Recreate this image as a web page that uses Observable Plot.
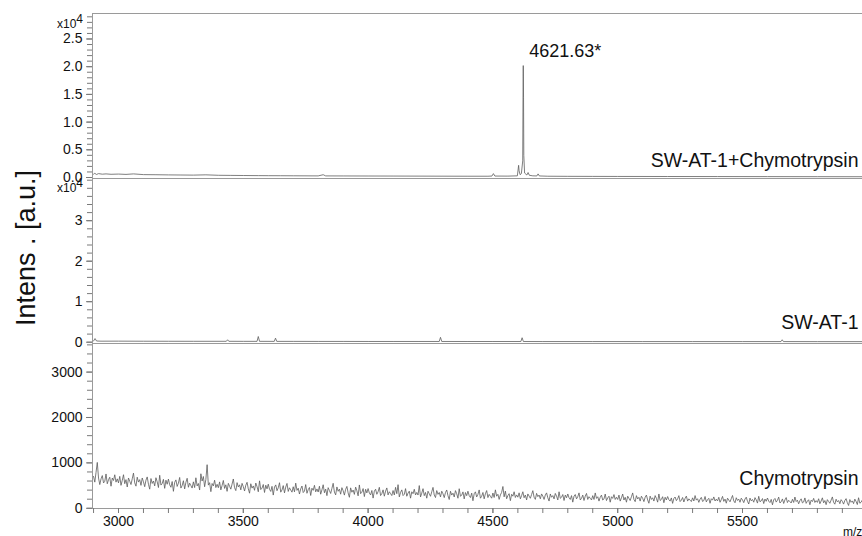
<!DOCTYPE html>
<html><head><meta charset="utf-8">
<script src="https://cdn.jsdelivr.net/npm/d3@7"></script>
<script src="https://cdn.jsdelivr.net/npm/@observablehq/plot@0.6"></script>
<style>
html,body{margin:0;padding:0;background:#fff;overflow:hidden;}
#wrap{position:relative;width:862px;height:536px;overflow:hidden;font-family:"Liberation Sans",Arial,sans-serif;color:#111;}
.panel{position:absolute;left:0;max-width:none !important;}
.exp{position:absolute;font-size:12px;line-height:12px;white-space:nowrap;}
.exp sup{font-size:12px;vertical-align:5px;line-height:0;}
#ytitle{position:absolute;left:26px;top:248px;transform:translate(-50%,-50%) rotate(-90deg);font-size:27px;line-height:27px;white-space:nowrap;}
#mz{position:absolute;left:843px;top:526px;font-size:12px;line-height:12px;white-space:nowrap;}
</style></head><body><div id="wrap"></div>
<script>
// ---------- data ----------
const seriesNames = ["SW-AT-1+Chymotrypsin", "SW-AT-1", "Chymotrypsin"];
const yTitle = "Intens . [a.u.]";
const xUnit = "m/z";
const peakLabel = "4621.63*";
const peakMz = 4621.63;
const peakIntensity = 20200;

const xTickLabels = [3000, 3500, 4000, 4500, 5000, 5500];
const y1TickLabels = [0, 5000, 10000, 15000, 20000, 25000];
const y2TickLabels = [0, 10000, 20000, 30000];
const y3TickLabels = [0, 1000, 2000, 3000];

// Panel 1: SW-AT-1 + Chymotrypsin
const comboMz = [2900, 2905, 2912, 2920, 2935, 2950, 2970, 3000, 3030, 3060, 3100, 3150, 3200, 3250, 3300, 3350, 3400, 3450, 3500, 3560, 3600, 3650, 3700, 3800, 3820, 3830, 3900, 4000, 4100, 4200, 4300, 4400, 4480, 4496, 4502, 4508, 4560, 4598, 4603, 4605, 4609, 4614, 4619.5, 4620.6, 4621.63, 4622.7, 4623.8, 4627, 4636, 4641, 4646, 4660, 4676, 4681, 4686, 4720, 4800, 4900, 5000, 5200, 5400, 5600, 5800, 6000];
const comboIntensity = [600, 750, 550, 700, 600, 650, 580, 620, 560, 650, 520, 500, 470, 450, 430, 480, 400, 380, 360, 340, 330, 320, 310, 290, 500, 290, 280, 270, 260, 250, 240, 230, 230, 260, 700, 260, 250, 300, 2200, 1200, 500, 700, 3000, 14000, 20200, 14500, 4000, 800, 450, 900, 400, 300, 280, 650, 280, 230, 210, 200, 190, 180, 170, 160, 150, 140];

// Panel 2: SW-AT-1
const swMz = [2900, 2906, 2912, 2930, 3000, 3100, 3200, 3300, 3432, 3437, 3442, 3500, 3555, 3560, 3565, 3624, 3629, 3634, 3700, 3800, 3900, 4000, 4100, 4200, 4285, 4290, 4295, 4400, 4500, 4612, 4617, 4622, 4700, 4900, 5100, 5300, 5500, 5654, 5659, 5664, 5800, 6000];
const swIntensity = [300, 900, 300, 250, 260, 240, 230, 220, 220, 600, 220, 210, 210, 1400, 210, 200, 1000, 200, 200, 190, 190, 180, 180, 180, 180, 1200, 180, 170, 170, 170, 1100, 170, 160, 160, 150, 150, 150, 150, 600, 150, 140, 140];

// Panel 3: Chymotrypsin, sampled every 5 m/z from 2900 to 5980
const chymoStart = 2900;
const chymoStep = 5;
const chymoIntensity = [
  702, 576, 792, 1010, 666, 522, 648, 720, 558, 594, 756, 540, 630, 684, 486, 666, 612, 738, 576, 648,
  559, 703, 505, 613, 739, 541, 631, 469, 667, 595, 523, 649, 775, 559, 487, 685, 577, 631, 505, 667,
  583, 475, 619, 691, 529, 421, 655, 547, 601, 493, 673, 583, 457, 727, 511, 547, 637, 439, 619, 529,
  643, 517, 463, 589, 373, 571, 625, 481, 553, 679, 445, 499, 607, 427, 571, 661, 463, 553, 499, 445,
  582, 456, 672, 492, 546, 402, 760, 600, 700, 474, 636, 960, 510, 564, 366, 546, 492, 618, 456, 528,
  453, 581, 405, 501, 613, 437, 517, 373, 549, 485, 421, 533, 645, 453, 389, 565, 469, 517, 405, 549,
  476, 380, 508, 572, 428, 332, 540, 444, 492, 396, 556, 476, 364, 604, 412, 444, 524, 348, 508, 428,
  531, 419, 371, 483, 291, 467, 515, 387, 451, 563, 355, 403, 499, 339, 467, 547, 371, 451, 403, 355,
  474, 362, 554, 394, 442, 314, 426, 490, 346, 378, 522, 330, 410, 458, 282, 442, 394, 506, 362, 426,
  358, 486, 310, 406, 518, 342, 422, 278, 454, 390, 326, 438, 550, 358, 294, 470, 374, 422, 310, 454,
  386, 290, 418, 482, 338, 242, 450, 354, 402, 306, 466, 386, 274, 514, 322, 354, 434, 258, 418, 338,
  434, 336, 294, 392, 224, 378, 420, 308, 364, 462, 280, 322, 406, 266, 378, 448, 294, 364, 322, 280,
  391, 293, 461, 321, 520, 251, 349, 405, 279, 307, 433, 265, 335, 377, 223, 363, 321, 419, 293, 349,
  292, 500, 250, 334, 432, 278, 348, 222, 376, 320, 264, 362, 460, 292, 236, 390, 306, 348, 250, 376,
  319, 235, 347, 403, 277, 193, 375, 291, 333, 249, 389, 319, 221, 431, 263, 291, 361, 207, 347, 277,
  376, 278, 236, 334, 166, 320, 362, 250, 306, 404, 222, 264, 348, 208, 320, 390, 236, 306, 264, 222,
  336, 238, 406, 266, 308, 196, 294, 350, 480, 252, 378, 210, 280, 322, 168, 308, 266, 364, 238, 294,
  244, 340, 208, 280, 364, 232, 292, 184, 316, 268, 220, 304, 388, 244, 196, 328, 256, 292, 208, 316,
  267, 195, 291, 339, 231, 159, 315, 243, 279, 207, 327, 267, 183, 363, 219, 243, 303, 171, 291, 231,
  315, 231, 195, 279, 135, 267, 303, 207, 255, 339, 183, 219, 291, 171, 267, 327, 195, 255, 219, 183,
  278, 194, 338, 218, 254, 158, 242, 290, 182, 206, 314, 170, 230, 266, 134, 254, 218, 302, 194, 242,
  194, 290, 158, 230, 314, 182, 242, 134, 266, 218, 170, 254, 338, 194, 146, 278, 206, 242, 158, 266,
  219, 147, 243, 291, 183, 111, 267, 195, 231, 159, 279, 219, 135, 315, 171, 195, 255, 123, 243, 183,
  258, 188, 158, 228, 108, 218, 248, 168, 208, 278, 148, 178, 238, 138, 218, 268, 158, 208, 178, 148,
  230, 160, 280, 180, 210, 130, 200, 240, 150, 170, 260, 140, 190, 220, 110, 210, 180, 250, 160, 200,
  162, 242, 132, 192, 262, 152, 202, 112, 222, 182, 142, 212, 282, 162, 122, 232, 172, 202, 132, 222,
  184, 124, 204, 244, 154, 94, 224, 164, 194, 134, 234, 184, 114, 264, 144, 164, 214, 104, 204, 154,
  226, 156, 126, 196, 76, 186, 216, 136, 176, 246, 116, 146, 206, 106, 186, 236, 126, 176, 146, 116,
  198, 128, 248, 148, 178, 98, 168, 208, 118, 138, 228, 108, 158, 188, 78, 178, 148, 218, 128, 168,
  130, 210, 100, 160, 230, 120, 170, 80, 190, 150, 110, 180, 250, 130, 90, 200, 140, 170, 100, 190,
  152, 92, 172, 212, 122, 62, 192, 132, 162, 102, 202, 152, 82, 232, 112, 132, 182
];

// ---------- build ----------
const combo = comboMz.map((m, i) => ({mz: m, v: comboIntensity[i]}));
const sw = swMz.map((m, i) => ({mz: m, v: swIntensity[i]}));
const chymo = chymoIntensity.map((v, i) => ({mz: chymoStart + i * chymoStep, v}));

const W = 870;
const xDomain = [2895.8, 6012.8];
const FONT = "'Liberation Sans', Arial, sans-serif";
const TICK = "#7a7a7a";
const FRAME = "#9a9a9a";
const LINE = "#5e5e5e";
const minor = (a, b, s) => d3.range(a, b + s / 2, s);
const xMinor = minor(2900, 6000, 100);

function yMarks(minorTicks, majorTicks, fmt) {
  return [
    Plot.axisY(minorTicks, {tickSize: 5, tickFormat: () => "", label: null, stroke: TICK}),
    Plot.axisY(majorTicks, {tickSize: 6, tickPadding: 4, tickFormat: fmt, label: null, stroke: TICK, fontSize: 14, fill: "#111"})
  ];
}
const style = {fontFamily: FONT, fontSize: "14px", color: "#111", background: "transparent", overflow: "visible", maxWidth: "none"};

const p1 = Plot.plot({
  width: W, height: 179, marginLeft: 92, marginRight: 0, marginTop: 13, marginBottom: 1,
  style,
  x: {domain: xDomain, axis: null},
  y: {domain: [-180, 29600]},
  marks: [
    Plot.frame({stroke: FRAME}),
    ...yMarks(minor(0, 29000, 1000), y1TickLabels, d => (d / 1e4).toFixed(1)),
    Plot.line(combo, {x: "mz", y: "v", stroke: LINE, strokeWidth: 0.8, clip: true}),
    Plot.text([{mz: peakMz, v: peakIntensity, t: peakLabel}], {x: "mz", y: "v", text: "t", textAnchor: "start", dx: 6, dy: -14, fontSize: 18, fill: "#111"}),
    Plot.text([seriesNames[0]], {text: d => d, frameAnchor: "bottom-right", textAnchor: "end", lineAnchor: "middle", dx: -12, dy: -18, fontSize: 19.5, fill: "#111"})
  ]
});

const p2 = Plot.plot({
  width: W, height: 166, marginLeft: 92, marginRight: 0, marginTop: 0, marginBottom: 1,
  style,
  x: {domain: xDomain, axis: null},
  y: {domain: [-321, 40420]},
  marks: [
    Plot.frame({stroke: FRAME}),
    ...yMarks(minor(0, 40000, 2000), y2TickLabels, d => String(d / 1e4)),
    Plot.line(sw, {x: "mz", y: "v", stroke: LINE, strokeWidth: 0.8, clip: true}),
    Plot.text([seriesNames[1]], {text: d => d, frameAnchor: "bottom-right", textAnchor: "end", lineAnchor: "middle", dx: -12, dy: -21, fontSize: 19.5, fill: "#111"})
  ]
});

const p3 = Plot.plot({
  width: W, height: 193, marginLeft: 92, marginRight: 0, marginTop: 0, marginBottom: 28,
  style,
  x: {domain: xDomain},
  y: {domain: [-5, 3630]},
  marks: [
    Plot.frame({stroke: FRAME}),
    ...yMarks(minor(0, 3600, 200), y3TickLabels, d => String(d)),
    Plot.axisX(xMinor, {tickSize: 5, tickFormat: () => "", label: null, stroke: TICK}),
    Plot.axisX(xTickLabels, {tickSize: 5, tickPadding: 3, tickFormat: d => String(d), label: null, stroke: TICK, fontSize: 14, fill: "#111"}),
    Plot.line(chymo, {x: "mz", y: "v", stroke: "#5c5c5c", strokeWidth: 0.8, clip: true}),
    Plot.text([seriesNames[2]], {text: d => d, frameAnchor: "bottom-right", textAnchor: "end", lineAnchor: "middle", dx: -12, dy: -30, fontSize: 19.5, fill: "#111"})
  ]
});

const wrap = document.getElementById("wrap");
[[p1, 0], [p2, 178], [p3, 343]].forEach(([svg, top]) => {
  svg.classList.add("panel");
  svg.style.position = "absolute";
  svg.style.left = "0px";
  svg.style.top = top + "px";
  svg.style.maxWidth = "none";
  wrap.appendChild(svg);
});

function addDiv(cls, id, html, css) {
  const d = document.createElement("div");
  if (cls) d.className = cls;
  if (id) d.id = id;
  d.innerHTML = html;
  Object.assign(d.style, css || {});
  wrap.appendChild(d);
}
addDiv("exp", null, "x10<sup>4</sup>", {right: (862 - 83) + "px", top: "18px"});
addDiv("exp", null, "x10<sup>4</sup>", {right: (862 - 83) + "px", top: "182px"});
addDiv(null, "ytitle", yTitle);
addDiv(null, "mz", xUnit);
</script></body></html>
